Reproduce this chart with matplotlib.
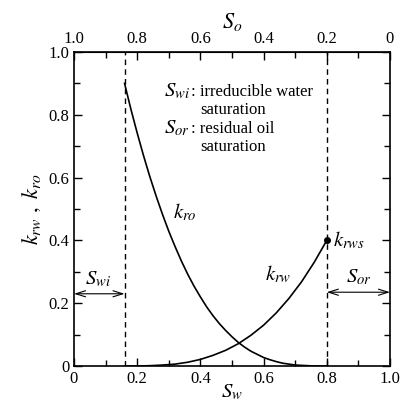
import matplotlib
matplotlib.use("Agg")
import matplotlib.pyplot as plt
from matplotlib.ticker import MultipleLocator

plt.rcParams['font.family'] = ['Liberation Serif', 'DejaVu Serif']
plt.rcParams['mathtext.fontset'] = 'stix'

# values
sw_ro = [0.16, 0.18, 0.20, 0.22, 0.24, 0.26, 0.28, 0.30, 0.32, 0.34, 0.36, 0.38,
         0.40, 0.42, 0.44, 0.46, 0.48, 0.50, 0.52, 0.54, 0.56, 0.58, 0.60, 0.62,
         0.64, 0.66, 0.68, 0.70, 0.72, 0.74, 0.76, 0.78, 0.80]
kro = [0.900, 0.818, 0.742, 0.670, 0.603, 0.541, 0.483, 0.429, 0.380, 0.334, 0.292, 0.254,
       0.220, 0.188, 0.160, 0.135, 0.113, 0.093, 0.075, 0.060, 0.047, 0.037, 0.027, 0.020,
       0.014, 0.009, 0.006, 0.003, 0.002, 0.001, 0.000, 0.000, 0.000]
sw_rw = [0.16, 0.20, 0.24, 0.28, 0.32, 0.36, 0.40, 0.44, 0.48, 0.52, 0.56, 0.60,
         0.64, 0.68, 0.72, 0.76, 0.80]
krw = [0.000, 0.000, 0.001, 0.003, 0.006, 0.012, 0.021, 0.034, 0.050, 0.071, 0.098, 0.130,
       0.169, 0.215, 0.268, 0.330, 0.400]
swi = 0.16
sor_sw = 0.80
krws = 0.40
ticklabs = ['0', '0.2', '0.4', '0.6', '0.8', '1.0']
so_labs = ['1.0', '0.8', '0.6', '0.4', '0.2', '0']

fig = plt.figure(figsize=(4.02, 4.04), dpi=100)
ax = fig.add_axes([74 / 402, 1 - 366 / 404, 316 / 402, 314 / 404])

ax.plot(sw_ro, kro, color='black', lw=1.2)
ax.plot(sw_rw, krw, color='black', lw=1.2)
ax.plot([sor_sw], [krws], 'o', color='black', ms=4)

ax.axvline(swi, color='black', lw=1.0, ls=(0, (4, 3)))
ax.axvline(sor_sw, color='black', lw=1.0, ls=(0, (4, 3)))

arrow = dict(arrowstyle='<->, head_length=0.7, head_width=0.22', color='black',
             lw=0.8, shrinkA=0, shrinkB=0)
ax.annotate('', xy=(0, 0.23), xytext=(swi, 0.23), arrowprops=arrow)
ax.annotate('', xy=(sor_sw, 0.235), xytext=(1.0, 0.235), arrowprops=arrow)

ax.text(0.075, 0.245, r'$S_{wi}$', fontsize=15, ha='center', va='bottom')
ax.text(0.90, 0.25, r'$S_{or}$', fontsize=15, ha='center', va='bottom')
ax.text(0.82, 0.40, r'$k_{rws}$', fontsize=15, ha='left', va='center')
ax.text(0.645, 0.29, r'$k_{rw}$', fontsize=15, ha='center', va='center')
ax.text(0.35, 0.49, r'$k_{ro}$', fontsize=15, ha='center', va='center')

ax.text(0.285, 0.873, r'$S_{wi}$', fontsize=15, ha='left', va='center')
ax.text(0.37, 0.873, ': irreducible water', fontsize=12, ha='left', va='center')
ax.text(0.40, 0.815, 'saturation', fontsize=12, ha='left', va='center')
ax.text(0.285, 0.755, r'$S_{or}$', fontsize=15, ha='left', va='center')
ax.text(0.37, 0.755, ': residual oil', fontsize=12, ha='left', va='center')
ax.text(0.40, 0.697, 'saturation', fontsize=12, ha='left', va='center')

ax.set_xlim(0, 1)
ax.set_ylim(0, 1)
ax.set_xticks([0, 0.2, 0.4, 0.6, 0.8, 1.0], ticklabs)
ax.set_yticks([0, 0.2, 0.4, 0.6, 0.8, 1.0], ticklabs)
ax.xaxis.set_minor_locator(MultipleLocator(0.1))
ax.yaxis.set_minor_locator(MultipleLocator(0.1))
ax.tick_params(which='both', direction='in', labelsize=12, right=True)
ax.tick_params(which='major', length=6, width=1.0)
ax.tick_params(which='minor', length=4, width=1.0)
for s in ax.spines.values():
    s.set_linewidth(1.2)

top = ax.secondary_xaxis('top', functions=(lambda x: 1 - x, lambda x: 1 - x))
top.set_xticks([1.0, 0.8, 0.6, 0.4, 0.2, 0.0], so_labs)
top.xaxis.set_minor_locator(MultipleLocator(0.1))
top.tick_params(which='both', direction='in', labelsize=12)
top.tick_params(which='major', length=6, width=1.0)
top.tick_params(which='minor', length=4, width=1.0)
top.set_xlabel(r'$S_o$', fontsize=16, labelpad=2)

ax.set_xlabel(r'$S_w$', fontsize=15, labelpad=-3)
ax.set_ylabel(r'$k_{rw}\ ,\ k_{ro}$', fontsize=16, labelpad=4)

fig.savefig('out.png', dpi=100)
